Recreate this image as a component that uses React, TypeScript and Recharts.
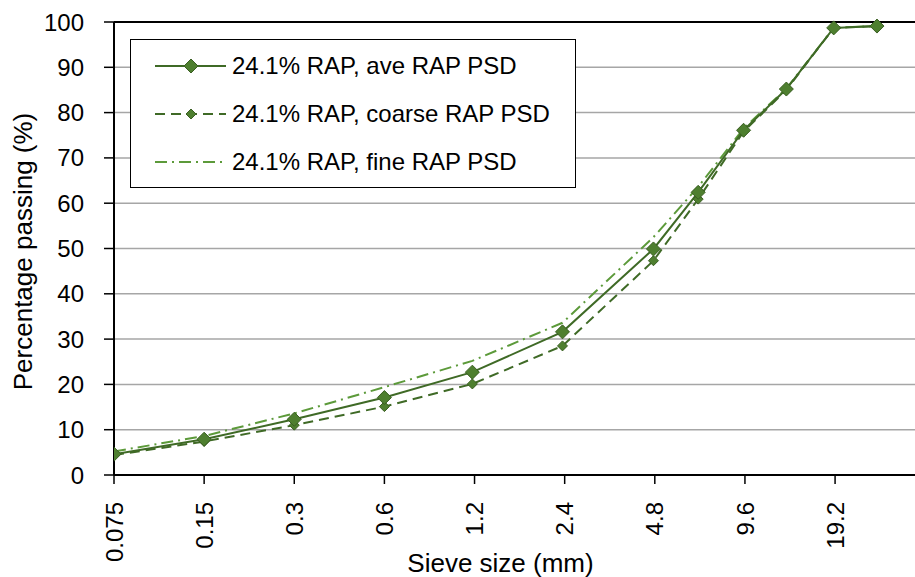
import React from "react";
import {
  LineChart,
  Line,
  XAxis,
  YAxis,
  CartesianGrid,
  ReferenceLine,
  Label,
} from "recharts";

const sieveSizes = [0.075, 0.15, 0.3, 0.6, 1.18, 2.36, 4.75, 6.7, 9.5, 13.2, 19, 26.5];
const avePSD = [4.6, 7.9, 12.3, 17.1, 22.7, 31.6, 49.9, 62.4, 76.1, 85.2, 98.7, 99.1];
const coarsePSD = [4.4, 7.4, 11.0, 15.1, 20.1, 28.5, 47.3, 60.9, 75.8, 85.0, 98.7, 99.1];
const finePSD = [5.2, 8.6, 13.6, 19.4, 25.2, 33.6, 52.5, 63.6, 76.5, 85.3, 98.7, 99.1];
const xTicks = [0.075, 0.15, 0.3, 0.6, 1.2, 2.4, 4.8, 9.6, 19.2];
const yTicks = [0, 10, 20, 30, 40, 50, 60, 70, 80, 90, 100];

const seriesNames = [
  "24.1% RAP, ave RAP PSD",
  "24.1% RAP, coarse RAP PSD",
  "24.1% RAP, fine RAP PSD",
];

const data = sieveSizes.map((size, i) => ({
  size,
  ave: avePSD[i],
  coarse: coarsePSD[i],
  fine: finePSD[i],
}));

const FONT = "'Liberation Sans', Arial, sans-serif";
const DARK = "#3f6a26";
const LIGHT = "#5c9a3a";
const FILL = "#4e7f2f";
const EDGE = "#3a5f22";

function Diamond({ cx, cy, r }: { cx?: number; cy?: number; r: number }) {
  if (cx == null || cy == null) return null;
  return (
    <polygon
      points={`${cx},${cy - r} ${cx + r},${cy} ${cx},${cy + r} ${cx - r},${cy}`}
      fill={FILL}
      stroke={EDGE}
      strokeWidth={1}
    />
  );
}

const XTick = ({ x, y, payload }: any) => (
  <g transform={`translate(${x},${y})`}>
    <text
      transform="rotate(-90)"
      x={0}
      y={0}
      dy="0.36em"
      textAnchor="end"
      fontSize={24}
      fontFamily={FONT}
      fill="#000"
    >
      {payload.value}
    </text>
  </g>
);

const legendItems = [
  { name: seriesNames[0], color: DARK, dash: undefined, marker: 7 },
  { name: seriesNames[1], color: DARK, dash: "10 6", marker: 5 },
  { name: seriesNames[2], color: LIGHT, dash: "12 5 2 5", marker: 0 },
];

// legend drawn as a box over the plot, like the original
const LegendBox = () => (
  <div
    style={{
      position: "absolute",
      left: 130,
      top: 39,
      width: 446,
      height: 149,
      border: "1.5px solid #000",
      background: "#fff",
      boxSizing: "border-box",
      paddingTop: 2,
    }}
  >
    {legendItems.map((item) => (
      <div
        key={item.name}
        style={{ display: "flex", alignItems: "center", height: 48 }}
      >
        <svg width={100} height={20} style={{ flex: "none" }}>
          <line
            x1={24}
            y1={10}
            x2={95}
            y2={10}
            stroke={item.color}
            strokeWidth={2}
            strokeDasharray={item.dash}
          />
          {item.marker > 0 && <Diamond cx={60} cy={10} r={item.marker} />}
        </svg>
        <span
          style={{
            fontFamily: FONT,
            fontSize: 24,
            color: "#000",
            marginLeft: 1,
            whiteSpace: "nowrap",
          }}
        >
          {item.name}
        </span>
      </div>
    ))}
  </div>
);

export default function App() {
  return (
    <div style={{ position: "absolute", left: 0, top: 0, background: "#fff" }}>
      <LineChart
        width={915}
        height={577}
        data={data}
        margin={{ top: 22, right: 0, bottom: 0, left: 0 }}
      >
        <CartesianGrid
          vertical={false}
          stroke="#a6a6a6"
          strokeWidth={1.5}
        />
        <XAxis
          dataKey="size"
          type="number"
          scale="log"
          domain={[0.075, 35.5]}
          ticks={xTicks}
          interval={0}
          tick={<XTick />}
          tickSize={9}
          tickMargin={18}
          height={102}
          stroke="#000"
          strokeWidth={2}
          tickLine={{ stroke: "#000", strokeWidth: 1.5 }}
          allowDataOverflow
        >
          <Label
            value="Sieve size (mm)"
            position="insideBottom"
            offset={5}
            dx={-14}
            style={{ fontFamily: FONT, fontSize: 26, fill: "#000" }}
          />
        </XAxis>
        <YAxis
          type="number"
          domain={[0, 100]}
          ticks={yTicks}
          interval={0}
          width={114}
          tickSize={10}
          tickMargin={20}
          stroke="#000"
          strokeWidth={2}
          tickLine={{ stroke: "#000", strokeWidth: 1.5 }}
          tick={{ fontFamily: FONT, fontSize: 24, fill: "#000" }}
        >
          <Label
            value="Percentage passing (%)"
            angle={-90}
            position="insideLeft"
            offset={23}
            dy={3}
            style={{ fontFamily: FONT, fontSize: 26, fill: "#000", textAnchor: "middle" }}
          />
        </YAxis>
        <ReferenceLine y={100} stroke="#000" strokeWidth={2} />
        <Line
          dataKey="fine"
          name={seriesNames[2]}
          stroke={LIGHT}
          strokeWidth={2}
          strokeDasharray="12 5 2 5"
          dot={false}
          activeDot={false}
          isAnimationActive={false}
        />
        <Line
          dataKey="coarse"
          name={seriesNames[1]}
          stroke={DARK}
          strokeWidth={2}
          strokeDasharray="10 6"
          dot={(p: any) => <Diamond key={`c-${p.index}`} cx={p.cx} cy={p.cy} r={5} />}
          activeDot={false}
          isAnimationActive={false}
        />
        <Line
          dataKey="ave"
          name={seriesNames[0]}
          stroke={DARK}
          strokeWidth={2}
          dot={(p: any) => <Diamond key={`a-${p.index}`} cx={p.cx} cy={p.cy} r={7} />}
          activeDot={false}
          isAnimationActive={false}
        />
      </LineChart>
      <LegendBox />
    </div>
  );
}
